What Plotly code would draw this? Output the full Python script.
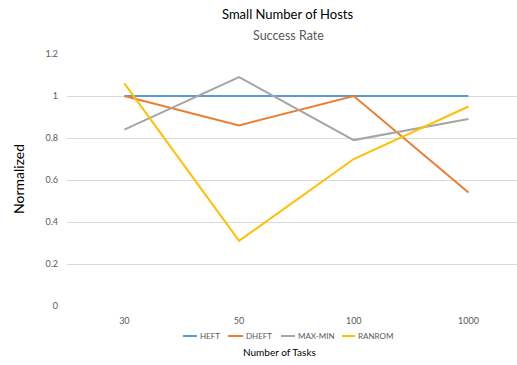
import plotly.graph_objects as go

# Task counts on the x axis and normalized success rate per scheduler
tasks = ["30", "50", "100", "1000"]
heft = [1.0, 1.0, 1.0, 1.0]
dheft = [1.0, 0.86, 1.0, 0.54]
max_min = [0.84, 1.09, 0.79, 0.89]
ranrom = [1.06, 0.31, 0.70, 0.95]

series = [
    ("HEFT", heft, "#5B9BD5"),
    ("DHEFT", dheft, "#ED7D31"),
    ("MAX-MIN", max_min, "#A5A5A5"),
    ("RANROM", ranrom, "#FFC000"),
]

W, H = 517, 365
L, R, T, B = 67, 0, 54, 59
pw = W - L - R
ph = H - T - B

def px_x(x):
    return (x - L) / pw

def px_y(y):
    return (H - B - y) / ph

font = "Lato, 'Open Sans', sans-serif"

fig = go.Figure()
xi = list(range(len(tasks)))
for name, vals, color in series:
    fig.add_trace(go.Scatter(
        x=xi, y=vals, name=name, mode="lines",
        line=dict(color=color, width=2),
        showlegend=False,
    ))

annotations = [
    dict(text="Small Number of Hosts", x=px_x(287), y=px_y(14),
         font=dict(size=13, color="#000000", family=font)),
    dict(text="Success Rate", x=px_x(288), y=px_y(35),
         font=dict(size=12.5, color="#595959", family=font)),
    dict(text="Number of Tasks", x=px_x(279), y=px_y(352),
         font=dict(size=10, color="#000000", family=font)),
    dict(text="Normalized", x=px_x(18), y=px_y(179), textangle=-90,
         font=dict(size=14, color="#000000", family=font)),
]
for a in annotations:
    a.update(xref="paper", yref="paper", showarrow=False,
             xanchor="center", yanchor="middle")

# Compact legend: short line sample followed by the series name
legend_y = 336
legend_slots = [(183, 197), (228, 243), (281, 295), (342, 355)]
shapes = []
for (name, _, color), (x0, x1) in zip(series, legend_slots):
    shapes.append(dict(type="line", xref="paper", yref="paper",
                       x0=px_x(x0), x1=px_x(x1),
                       y0=px_y(legend_y), y1=px_y(legend_y),
                       line=dict(color=color, width=2)))
    annotations.append(dict(text=name, x=px_x(x1 + 0.5), y=px_y(legend_y),
                            xref="paper", yref="paper", showarrow=False,
                            xanchor="left", yanchor="middle",
                            font=dict(size=8, color="#595959", family=font)))

fig.update_layout(
    width=W, height=H,
    margin=dict(l=L, r=R, t=T, b=B, pad=0),
    paper_bgcolor="white", plot_bgcolor="white",
    font=dict(family=font, color="#595959", size=9),
    showlegend=False,
    xaxis=dict(
        range=[-0.5, -0.5 + pw / 114.7],
        tickmode="array", tickvals=xi, ticktext=tasks,
        showgrid=False, zeroline=False, showline=False,
        ticks="", tickfont=dict(size=9, color="#595959"),
        ticklabelstandoff=8,
    ),
    yaxis=dict(
        range=[0, 1.2], tickvals=[0, 0.2, 0.4, 0.6, 0.8, 1, 1.2],
        ticktext=["0", "0.2", "0.4", "0.6", "0.8", "1", "1.2"],
        showgrid=True, gridcolor="#D9D9D9", gridwidth=1,
        zeroline=False, showline=False, ticks="",
        tickfont=dict(size=9, color="#595959"),
        ticklabelstandoff=8,
    ),
    shapes=shapes,
    annotations=annotations,
)

fig.write_html("out.html")
